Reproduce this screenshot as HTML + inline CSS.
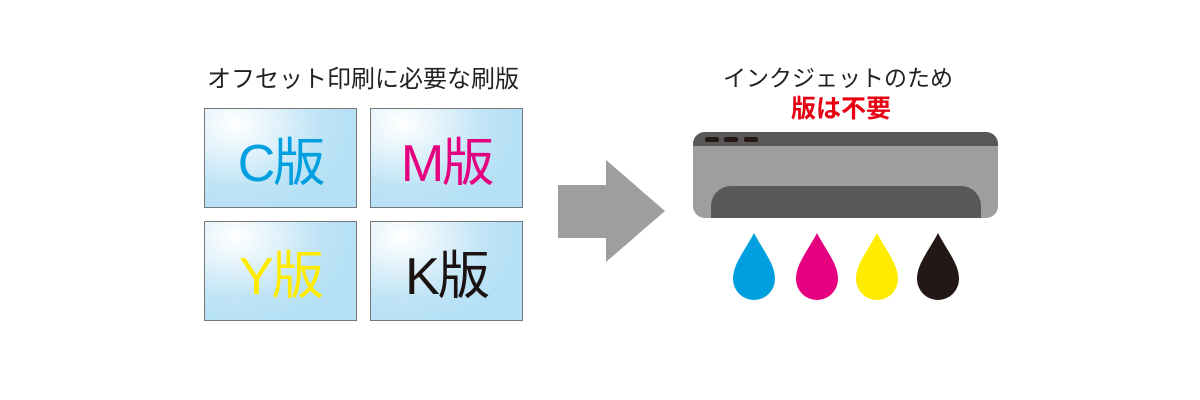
<!DOCTYPE html>
<html><head><meta charset="utf-8"><style>
body{margin:0;width:1200px;height:400px;background:#fff;position:relative;overflow:hidden;font-family:"Liberation Sans","Noto Sans CJK JP",sans-serif}
.t{position:absolute;white-space:nowrap;text-align:center}
.box{position:absolute;width:151px;height:98px;border:1px solid #777;background:radial-gradient(ellipse 120px 90px at 20% 15%,#fff 0%,#e6f4fb 30%,#bfe4f6 70%,#b5e0f5 100%);font-size:52px;display:flex;align-items:center;justify-content:center;letter-spacing:-2px}
</style></head><body>
<div class="t" style="left:163px;width:400px;top:59px;font-size:24px;color:#222">オフセット印刷に必要な刷版</div>
<div class="box" style="left:204px;top:108px;color:#00a0e0">C版</div>
<div class="box" style="left:370px;top:108px;color:#e4007f">M版</div>
<div class="box" style="left:204px;top:221px;color:#ffeb00">Y版</div>
<div class="box" style="left:370px;top:221px;color:#1a1311">K版</div>
<svg style="position:absolute;left:0;top:0" width="1200" height="400">
<polygon points="558,185 606,185 606,160 665,211 606,262 606,238 558,238" fill="#9e9e9e"/>
<rect x="693" y="132" width="305" height="86" rx="12" fill="#9e9e9e"/>
<path d="M705,132 H986 A12,12 0 0 1 998,144 V146 H693 V144 A12,12 0 0 1 705,132Z" fill="#595757"/>
<rect x="705" y="137" width="14" height="5" rx="2" fill="#231815"/>
<rect x="724" y="137" width="14" height="5" rx="2" fill="#231815"/>
<rect x="744" y="137" width="14" height="5" rx="2" fill="#231815"/>
<path d="M711,218 V206 A20,20 0 0 1 731,186 H961 A20,20 0 0 1 981,206 V218Z" fill="#595757"/>
<g>
<path d="M754,233 C764,252 775,264 775,279 A21,21 0 0 1 733,279 C733,264 744,252 754,233Z" fill="#00a0e0"/>
<path d="M817,233 C827,252 838,264 838,279 A21,21 0 0 1 796,279 C796,264 807,252 817,233Z" fill="#e4007f"/>
<path d="M877,233 C887,252 898,264 898,279 A21,21 0 0 1 856,279 C856,264 867,252 877,233Z" fill="#ffeb00"/>
<path d="M938,233 C948,252 959,264 959,279 A21,21 0 0 1 917,279 C917,264 928,252 938,233Z" fill="#231815"/>
</g>
</svg>
<div class="t" style="left:638px;width:400px;top:59px;font-size:23px;color:#222">インクジェットのため</div>
<div class="t" style="left:641px;width:400px;top:89px;font-size:25px;font-weight:bold;color:#e60012">版は不要</div>
</body></html>
